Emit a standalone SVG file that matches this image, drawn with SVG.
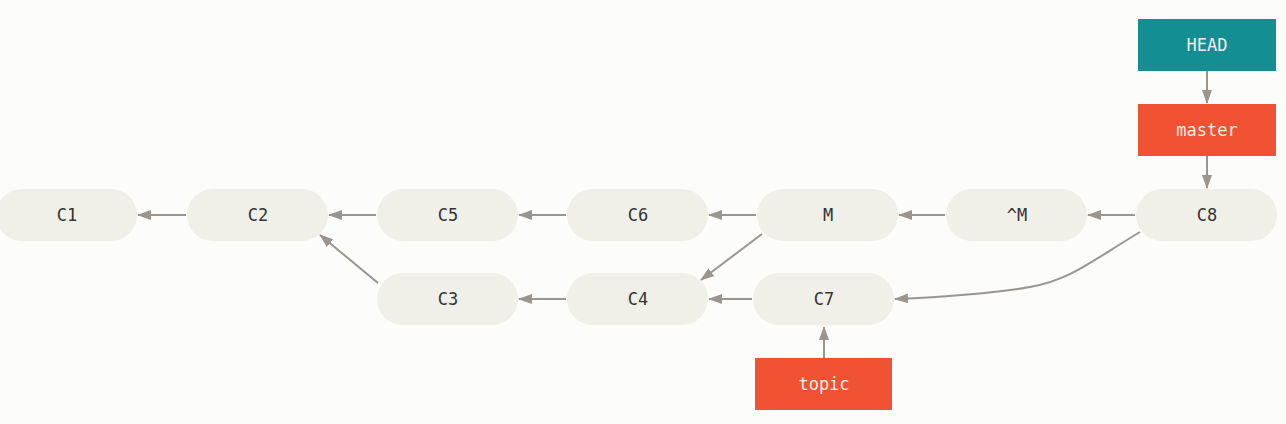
<svg xmlns="http://www.w3.org/2000/svg" width="1286" height="424" viewBox="0 0 1286 424">
<defs>
<style>
.commit rect{fill:#f0efe8}
.commit text{fill:#333;font-family:"DejaVu Sans Mono","Liberation Mono",monospace;font-size:17px;text-anchor:middle;dominant-baseline:central}
.ref text{fill:#f4ede6;font-family:"DejaVu Sans Mono","Liberation Mono",monospace;font-size:17px;text-anchor:middle;dominant-baseline:central}
.conn path{fill:none;stroke:#9a958f;stroke-width:2;marker-end:url(#ah)}
</style>
<marker id="ah" viewBox="0 0 14 10" refX="13" refY="5" markerWidth="14" markerHeight="10" markerUnits="userSpaceOnUse" orient="auto">
<path d="M0,0 L14,5 L0,10 Z" fill="#9a958f"/>
</marker>
</defs>
<rect width="1286" height="424" fill="#fcfcfa"/>
<g id="connectors" class="conn">
<path d="M186,215 L138,215"/>
<path d="M376,215 L329,215"/>
<path d="M566,215 L519,215"/>
<path d="M756,215 L709,215"/>
<path d="M945,215 L899,215"/>
<path d="M1135,215 L1088,215"/>
<path d="M378,283 L320,235"/>
<path d="M566,299 L519,299"/>
<path d="M752,299 L709,299"/>
<path d="M762,234 L701,280"/>
<path d="M1140,232 C1090,262 1070,280 1030,287 C990,294 940,297 895,299"/>
<path d="M824,358 L824,327"/>
<path d="M1207,71 L1207,103"/>
<path d="M1207,156 L1207,188"/>
</g>
<g id="C1" class="commit"><rect x="-4" y="189" width="141" height="52" rx="26"/><text x="67" y="215">C1</text></g>
<g id="C2" class="commit"><rect x="187" y="189" width="141" height="52" rx="26"/><text x="258" y="215">C2</text></g>
<g id="C5" class="commit"><rect x="377" y="189" width="141" height="52" rx="26"/><text x="448" y="215">C5</text></g>
<g id="C6" class="commit"><rect x="567" y="189" width="141" height="52" rx="26"/><text x="638" y="215">C6</text></g>
<g id="M" class="commit"><rect x="757" y="189" width="141" height="52" rx="26"/><text x="828" y="215">M</text></g>
<g id="notM" class="commit"><rect x="946" y="189" width="141" height="52" rx="26"/><text x="1017" y="215">^M</text></g>
<g id="C8" class="commit"><rect x="1136" y="189" width="141" height="52" rx="26"/><text x="1207" y="215">C8</text></g>
<g id="C3" class="commit"><rect x="377" y="273" width="141" height="52" rx="26"/><text x="448" y="299">C3</text></g>
<g id="C4" class="commit"><rect x="567" y="273" width="141" height="52" rx="26"/><text x="638" y="299">C4</text></g>
<g id="C7" class="commit"><rect x="753" y="273" width="141" height="52" rx="26"/><text x="824" y="299">C7</text></g>
<g id="HEAD" class="ref"><rect x="1138" y="19" width="138" height="52" fill="#138f94"/><text x="1207" y="45">HEAD</text></g>
<g id="master" class="ref"><rect x="1138" y="104" width="138" height="52" fill="#f15133"/><text x="1207" y="130">master</text></g>
<g id="topic" class="ref"><rect x="755" y="358" width="137" height="52" fill="#f15133"/><text x="824" y="384">topic</text></g>
</svg>
